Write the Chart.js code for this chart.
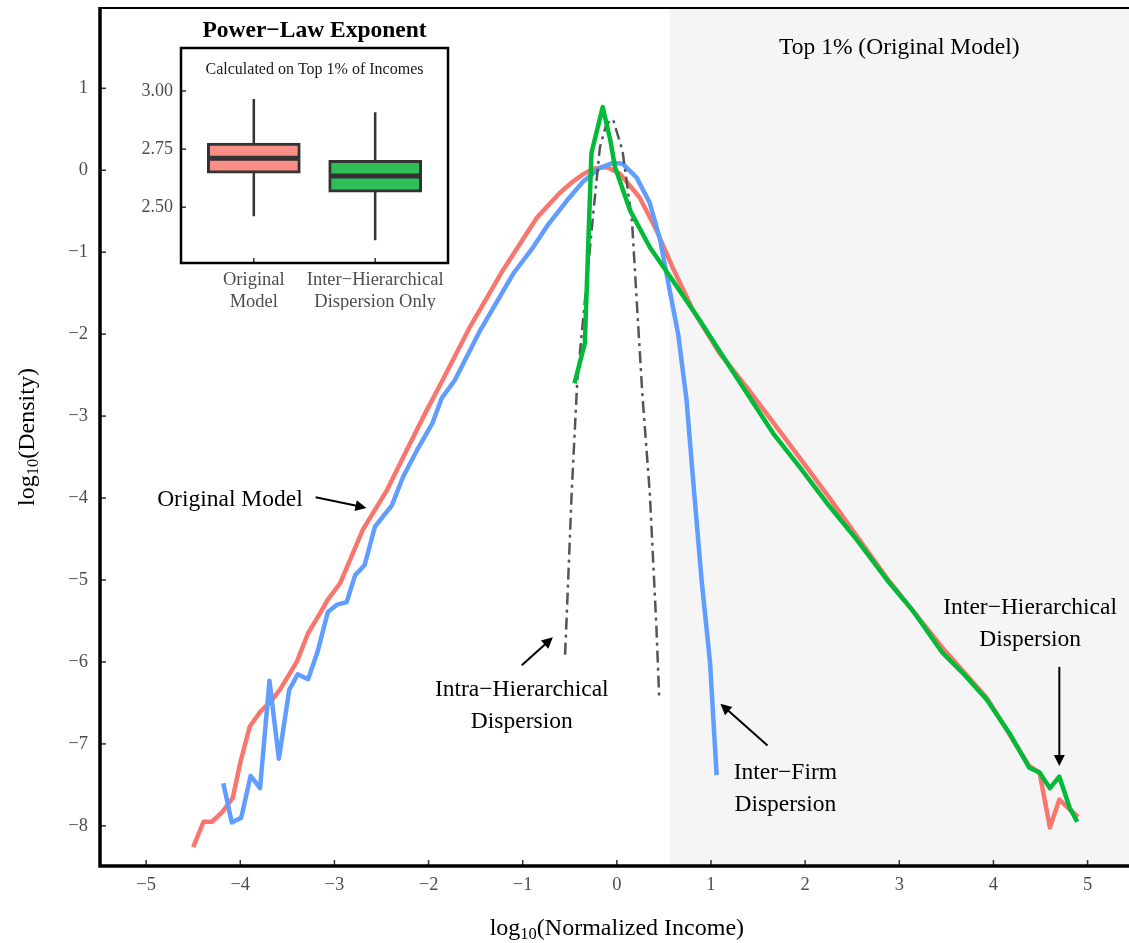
<!DOCTYPE html>
<html>
<head>
<meta charset="utf-8">
<script src="https://cdn.jsdelivr.net/npm/chart.js@4.4.0/dist/chart.umd.min.js"></script>
<style>
  html, body { margin: 0; padding: 0; background: #fff; }
  #wrap { position: relative; width: 1129px; height: 943px; }
  #main { position: absolute; left: 0; top: 0; }
  #inset { position: absolute; left: 110px; top: 10px; }
</style>
</head>
<body>
<div id="wrap">
  <canvas id="main" width="1129" height="943"></canvas>
  <canvas id="inset" width="350" height="300"></canvas>
</div>
<script>
// ---- data (log10 normalized income vs log10 density) ----
const origX = [-4.50,-4.39,-4.30,-4.19,-4.08,-4.00,-3.90,-3.79,-3.69,-3.58,-3.40,-3.28,-3.15,-3.07,-2.94,-2.70,-2.44,-2.23,-2.02,-1.85,-1.56,-1.21,-0.85,-0.61,-0.47,-0.36,-0.25,-0.11,0.03,0.24,0.42,0.59,0.81,1.09,1.38,1.80,2.26,2.87,3.46,3.93,4.38,4.49,4.60,4.70,4.81,4.90];
const origY = [-8.26,-7.95,-7.95,-7.83,-7.66,-7.23,-6.79,-6.61,-6.50,-6.34,-6.00,-5.65,-5.40,-5.24,-5.04,-4.39,-3.90,-3.41,-2.93,-2.56,-1.91,-1.22,-0.58,-0.28,-0.14,-0.05,0.02,0.04,-0.04,-0.33,-0.73,-1.18,-1.71,-2.23,-2.65,-3.29,-4.00,-4.98,-5.83,-6.44,-7.27,-7.35,-8.02,-7.68,-7.80,-7.89];

const firmX = [-4.18,-4.09,-3.99,-3.89,-3.79,-3.69,-3.59,-3.48,-3.39,-3.28,-3.18,-3.07,-2.97,-2.87,-2.78,-2.68,-2.57,-2.39,-2.27,-2.12,-1.96,-1.86,-1.72,-1.45,-1.10,-0.89,-0.74,-0.53,-0.36,-0.18,-0.04,0.06,0.21,0.35,0.46,0.56,0.65,0.74,0.81,0.90,0.99,1.06];
const firmY = [-7.48,-7.96,-7.90,-7.39,-7.54,-6.23,-7.18,-6.34,-6.15,-6.21,-5.88,-5.39,-5.30,-5.27,-4.94,-4.82,-4.35,-4.09,-3.74,-3.41,-3.09,-2.78,-2.56,-1.95,-1.26,-0.94,-0.68,-0.37,-0.14,0.03,0.09,0.08,-0.09,-0.40,-0.85,-1.46,-1.99,-2.80,-3.78,-5.00,-6.01,-7.38];

const intraX = [-0.55,-0.53,-0.48,-0.42,-0.25,-0.18,-0.11,-0.04,0.06,0.16,0.27,0.35,0.42,0.45];
const intraY = [-5.91,-5.37,-3.94,-2.56,-0.52,0.28,0.57,0.62,0.24,-0.61,-2.72,-3.94,-5.57,-6.44];

const interX = [-0.45,-0.34,-0.27,-0.15,-0.07,-0.02,0.14,0.35,0.59,0.88,1.20,1.66,1.94,2.23,2.55,2.87,3.14,3.46,3.67,3.93,4.17,4.38,4.49,4.60,4.70,4.81,4.89];
const interY = [-2.60,-2.11,0.21,0.77,0.37,0.04,-0.49,-0.94,-1.34,-1.83,-2.40,-3.21,-3.62,-4.06,-4.51,-5.00,-5.37,-5.89,-6.13,-6.46,-6.87,-7.29,-7.35,-7.54,-7.40,-7.78,-7.95];

// top 1% threshold (start of shaded band)
const topCut = 0.56;

// inset: power-law exponent box plots
const boxCats = [["Original", "Model"], ["Inter\u2212Hierarchical", "Dispersion Only"]];
const boxX = [1, 2];
const boxMin = [2.461, 2.358];
const boxQ1 = [2.647, 2.565];
const boxMed = [2.711, 2.634];
const boxQ3 = [2.776, 2.702];
const boxMax = [2.966, 2.909];

const SERIF = "'Liberation Serif', 'DejaVu Serif', serif";
const minus = (v) => (v < 0 ? "\u2212" + Math.abs(v) : String(v));
const pts = (xs, ys) => xs.map((x, i) => ({ x: x, y: ys[i] }));

// annotation labels, in data units
const notes = [
  { lines: ["Original Model"], x: -4.11, y: -4.02, arrow: [-3.20, -3.99, -2.66, -4.12] },
  { lines: ["Intra\u2212Hierarchical", "Dispersion"], x: -1.01, y: -6.34, arrow: [-1.01, -6.04, -0.68, -5.70] },
  { lines: ["Inter\u2212Firm", "Dispersion"], x: 1.79, y: -7.35, arrow: [1.60, -7.02, 1.10, -6.51] },
  { lines: ["Inter\u2212Hierarchical", "Dispersion"], x: 4.39, y: -5.34, arrow: [4.70, -6.06, 4.70, -7.27] },
  { lines: ["Top 1% (Original Model)"], x: 3.00, y: 1.50 }
];

function arrow(ctx, x1, y1, x2, y2) {
  const a = Math.atan2(y2 - y1, x2 - x1);
  const len = 11, w = 5.5;
  ctx.beginPath();
  ctx.moveTo(x1, y1);
  ctx.lineTo(x2 - Math.cos(a) * len * 0.8, y2 - Math.sin(a) * len * 0.8);
  ctx.stroke();
  ctx.beginPath();
  ctx.moveTo(x2, y2);
  ctx.lineTo(x2 - Math.cos(a) * len - Math.sin(a) * w, y2 - Math.sin(a) * len + Math.cos(a) * w);
  ctx.lineTo(x2 - Math.cos(a) * len + Math.sin(a) * w, y2 - Math.sin(a) * len - Math.cos(a) * w);
  ctx.closePath();
  ctx.fill();
}

// draws "log10(...)" with a subscript 10, centred on (cx, cy)
function logTitle(ctx, rest, cx, cy) {
  const big = "24px " + SERIF, small = "16.5px " + SERIF;
  ctx.font = big; const w1 = ctx.measureText("log").width, w3 = ctx.measureText(rest).width;
  ctx.font = small; const w2 = ctx.measureText("10").width;
  let x = cx - (w1 + w2 + w3) / 2;
  ctx.textAlign = "left"; ctx.textBaseline = "middle"; ctx.fillStyle = "#000";
  ctx.font = big; ctx.fillText("log", x, cy); x += w1;
  ctx.font = small; ctx.fillText("10", x, cy + 6); x += w2;
  ctx.font = big; ctx.fillText(rest, x, cy);
}

const mainDecor = {
  id: "mainDecor",
  beforeDatasetsDraw(chart) {
    const { ctx, chartArea: a, scales: { x } } = chart;
    ctx.save();
    ctx.fillStyle = "#f5f5f5";
    const xs = x.getPixelForValue(topCut);
    ctx.fillRect(xs, a.top, a.right - xs, a.bottom - a.top);
    ctx.restore();
  },
  afterDraw(chart) {
    const { ctx, chartArea: a, scales: { x, y } } = chart;
    ctx.save();
    // inside tick marks
    ctx.strokeStyle = "#333"; ctx.lineWidth = 1.5;
    x.ticks.forEach(t => {
      const px = x.getPixelForValue(t.value);
      ctx.beginPath(); ctx.moveTo(px, a.bottom); ctx.lineTo(px, a.bottom - 6); ctx.stroke();
    });
    y.ticks.forEach(t => {
      const py = y.getPixelForValue(t.value);
      ctx.beginPath(); ctx.moveTo(a.left, py); ctx.lineTo(a.left + 6, py); ctx.stroke();
    });
    // panel border
    ctx.strokeStyle = "#000";
    ctx.lineWidth = 2; ctx.beginPath(); ctx.moveTo(a.left, a.top); ctx.lineTo(a.right, a.top); ctx.stroke();
    ctx.lineWidth = 3.5; ctx.beginPath(); ctx.moveTo(a.left, a.top - 1); ctx.lineTo(a.left, a.bottom); ctx.lineTo(a.right, a.bottom); ctx.stroke();
    // annotations
    ctx.fillStyle = "#000"; ctx.strokeStyle = "#000"; ctx.lineWidth = 2;
    ctx.font = "23.5px " + SERIF; ctx.textAlign = "center"; ctx.textBaseline = "middle";
    notes.forEach(n => {
      const cx = x.getPixelForValue(n.x), cy = y.getPixelForValue(n.y);
      n.lines.forEach((s, i) => ctx.fillText(s, cx, cy + i * 32));
      if (n.arrow) {
        const [ax1, ay1, ax2, ay2] = n.arrow;
        arrow(ctx, x.getPixelForValue(ax1), y.getPixelForValue(ay1), x.getPixelForValue(ax2), y.getPixelForValue(ay2));
      }
    });
    // axis titles
    logTitle(ctx, "(Normalized Income)", x.getPixelForValue(0), 929);
    ctx.translate(28, (a.top + a.bottom) / 2);
    ctx.rotate(-Math.PI / 2);
    logTitle(ctx, "(Density)", 0, 0);
    ctx.restore();
  }
};

const tickFont = { family: SERIF, size: 18.5 };

new Chart(document.getElementById("main"), {
  type: "line",
  data: {
    datasets: [
      { label: "Inter-Hierarchical Dispersion", data: pts(interX, interY), borderColor: "#00BA38", borderWidth: 4.5, order: 0 },
      { label: "Intra-Hierarchical Dispersion", data: pts(intraX, intraY), borderColor: "#555555", borderWidth: 2.5, borderDash: [12, 5, 3, 5], order: 1 },
      { label: "Inter-Firm Dispersion", data: pts(firmX, firmY), borderColor: "#619CFF", borderWidth: 4.5, order: 2 },
      { label: "Original Model", data: pts(origX, origY), borderColor: "#F8766D", borderWidth: 4.5, order: 3 }
    ]
  },
  options: {
    responsive: false,
    animation: false,
    layout: { padding: { top: 8, right: 0, left: 0, bottom: 0 } },
    elements: {
      point: { radius: 0 },
      line: { tension: 0, fill: false, borderJoinStyle: "round", borderCapStyle: "butt" }
    },
    plugins: { legend: { display: false }, tooltip: { enabled: false } },
    scales: {
      x: {
        type: "linear", min: -5.49, max: 5.44,
        afterFit: s => { s.height = 77; s.paddingLeft = 0; s.paddingRight = 0; },
        grid: { display: false, drawTicks: false }, border: { display: false },
        ticks: { stepSize: 1, includeBounds: false, padding: 8, color: "#4d4d4d", font: tickFont, callback: v => minus(v) }
      },
      y: {
        type: "linear", min: -8.49, max: 1.98,
        afterFit: s => { s.width = 100; s.paddingTop = 0; s.paddingBottom = 0; },
        grid: { display: false, drawTicks: false }, border: { display: false },
        ticks: { stepSize: 1, includeBounds: false, padding: 12, color: "#4d4d4d", font: tickFont, callback: v => minus(v) }
      }
    }
  },
  plugins: [mainDecor]
});

// ---- inset box plot ----
const insetDecor = {
  id: "insetDecor",
  beforeDatasetsDraw(chart) {
    const { ctx, chartArea: a } = chart;
    ctx.save(); ctx.fillStyle = "#fff";
    ctx.fillRect(a.left, a.top, a.right - a.left, a.bottom - a.top);
    ctx.restore();
  },
  afterDatasetsDraw(chart) {
    const { ctx, scales: { x, y } } = chart;
    ctx.save();
    ctx.strokeStyle = "#333";
    boxX.forEach((bx, i) => {
      const px = x.getPixelForValue(bx);
      ctx.lineWidth = 2.5;
      ctx.beginPath();
      ctx.moveTo(px, y.getPixelForValue(boxQ3[i])); ctx.lineTo(px, y.getPixelForValue(boxMax[i]));
      ctx.moveTo(px, y.getPixelForValue(boxQ1[i])); ctx.lineTo(px, y.getPixelForValue(boxMin[i]));
      ctx.stroke();
      ctx.lineWidth = 5;
      const my = y.getPixelForValue(boxMed[i]);
      ctx.beginPath(); ctx.moveTo(px - 46, my); ctx.lineTo(px + 46, my); ctx.stroke();
    });
    ctx.restore();
  },
  afterDraw(chart) {
    const { ctx, chartArea: a, scales: { x, y } } = chart;
    ctx.save();
    ctx.strokeStyle = "#333"; ctx.lineWidth = 1.5;
    x.ticks.forEach(t => {
      const px = x.getPixelForValue(t.value);
      ctx.beginPath(); ctx.moveTo(px, a.bottom); ctx.lineTo(px, a.bottom - 5); ctx.stroke();
    });
    y.ticks.forEach(t => {
      const py = y.getPixelForValue(t.value);
      ctx.beginPath(); ctx.moveTo(a.left, py); ctx.lineTo(a.left + 5, py); ctx.stroke();
    });
    ctx.strokeStyle = "#000"; ctx.lineWidth = 2.5;
    ctx.strokeRect(a.left, a.top, a.right - a.left, a.bottom - a.top);
    ctx.fillStyle = "#000"; ctx.textAlign = "center"; ctx.textBaseline = "middle";
    const cx = (a.left + a.right) / 2;
    ctx.font = "bold 23.5px " + SERIF;
    ctx.fillText("Power\u2212Law Exponent", cx, a.top - 17);
    ctx.font = "16px " + SERIF;
    ctx.fillStyle = "#1a1a1a";
    ctx.fillText("Calculated on Top 1% of Incomes", cx, a.top + 22);
    ctx.restore();
  }
};

new Chart(document.getElementById("inset"), {
  type: "bar",
  data: {
    datasets: [{
      data: boxX.map((bx, i) => ({ x: bx, y: [boxQ1[i], boxQ3[i]] })),
      backgroundColor: ["#F98F87", "#2EBF59"],
      borderColor: "#333333",
      borderWidth: 3,
      borderSkipped: false,
      barThickness: 93
    }]
  },
  options: {
    responsive: false,
    animation: false,
    layout: { padding: { top: 38, right: 12, left: 0, bottom: 0 } },
    plugins: { legend: { display: false }, tooltip: { enabled: false } },
    scales: {
      x: {
        type: "linear", min: 0.4, max: 2.6, offset: false,
        afterFit: s => { s.height = 47; s.paddingLeft = 0; s.paddingRight = 0; },
        grid: { display: false, drawTicks: false, offset: false }, border: { display: false },
        ticks: {
          stepSize: 1, includeBounds: false, padding: 6, color: "#4d4d4d",
          font: { family: SERIF, size: 18.5 },
          callback: v => boxCats[boxX.indexOf(v)] || ""
        }
      },
      y: {
        type: "linear", min: 2.26, max: 3.185,
        afterFit: s => { s.width = 71; s.paddingTop = 0; s.paddingBottom = 0; },
        grid: { display: false, drawTicks: false }, border: { display: false },
        ticks: { stepSize: 0.25, includeBounds: false, padding: 8, color: "#4d4d4d", font: { family: SERIF, size: 18 }, callback: v => v.toFixed(2) }
      }
    }
  },
  plugins: [insetDecor]
});
</script>
</body>
</html>
